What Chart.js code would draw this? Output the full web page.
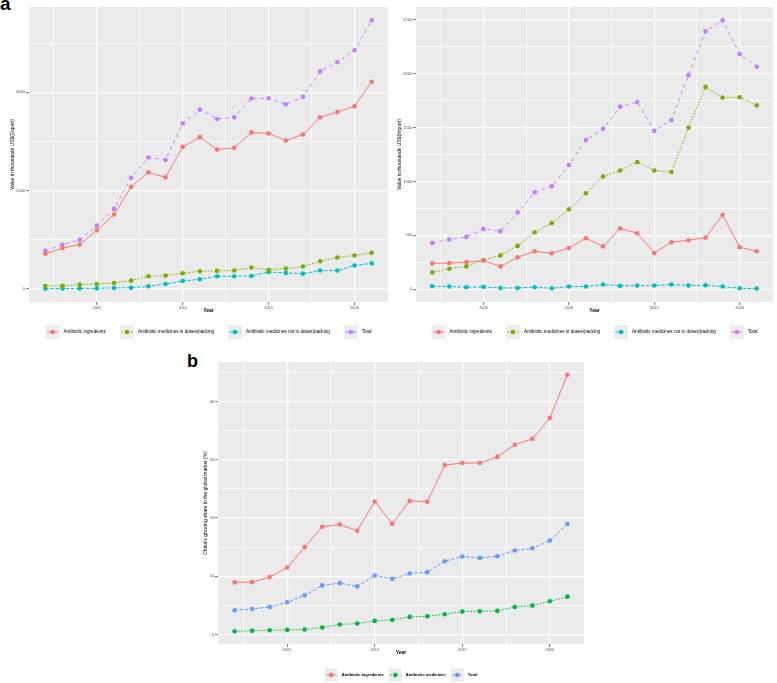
<!DOCTYPE html>
<html>
  <head>
    <meta charset='utf-8'>
    <title>China antibiotic trade</title>
    <style>
      body {
        margin: 0;
        background: #fff;
        font-family: 'Liberation Sans', Arial, sans-serif;
      }
      #page {
        position: relative;
        width: 777px;
        height: 683px;
        overflow: hidden;
      }
      canvas, .tag {
        position: absolute;
      }
      .tag {
        font-weight: bold;
        line-height: 1;
      }
    </style>
    <script src='https://cdn.jsdelivr.net/npm/chart.js@4.4.1/dist/chart.umd.min.js'></script>
  </head>
  <body>
    <div id='page'>
      <div class='tag' style='left:0px;top:-6px;font-size:19px'>a</div>
      <div class='tag' style='left:187px;top:352px;font-size:18px'>b</div>
      <canvas id='exportChart' width='392' height='345' style='left:0px;top:0px'></canvas>
      <canvas id='importChart' width='389' height='345' style='left:388px;top:0px'></canvas>
      <canvas id='shareChart' width='420' height='338' style='left:180px;top:345px'></canvas>
    </div>

    <script>
    var years = [2002, 2003, 2004, 2005, 2006, 2007, 2008, 2009, 2010, 2011,
                 2012, 2013, 2014, 2015, 2016, 2017, 2018, 2019, 2020, 2021];
    var yearTicks = [2002.5, 2005, 2007.5, 2010, 2012.5, 2015, 2017.5, 2020];

    // a, left: exports, thousands US$
    var exportIngredients = [710, 826, 901, 1188, 1509, 2075, 2369, 2266, 2887, 3085,
                             2833, 2867, 3181, 3160, 3017, 3140, 3488, 3597, 3713, 4212];
    var exportDoses = [55, 61, 82, 96, 116, 164, 253, 266, 314, 355,
                       362, 369, 430, 382, 410, 451, 560, 635, 676, 730];
    var exportNotDoses = [2, 3, 5, 7, 14, 20, 48, 96, 157, 191,
                          253, 253, 259, 341, 321, 307, 369, 369, 471, 519];
    var exportTotal = [771, 894, 997, 1283, 1625, 2259, 2669, 2621, 3365, 3645,
                       3454, 3488, 3870, 3877, 3754, 3904, 4423, 4608, 4853, 5461];
    var exportTicks = [0, 1000, 2000, 3000, 4000, 5000];

    // a, right: imports, thousands US$
    var importIngredients = [240, 243, 252, 265, 212, 296, 352, 333, 383, 473,
                             398, 564, 520, 336, 436, 455, 479, 691, 389, 352];
    var importDoses = [156, 190, 212, 271, 314, 402, 529, 613, 741, 890,
                       1046, 1102, 1180, 1102, 1087, 1498, 1877, 1778, 1781, 1706];
    var importNotDoses = [28, 25, 19, 22, 12, 12, 19, 9, 25, 25,
                          44, 31, 34, 34, 44, 34, 37, 25, 9, 6];
    var importTotal = [430, 461, 486, 560, 539, 713, 900, 956, 1152, 1385,
                       1488, 1694, 1737, 1469, 1569, 1986, 2394, 2494, 2182, 2064];
    var importTicks = [0, 250, 500, 750, 1000, 1250, 1500, 1750, 2000, 2250, 2500];

    // b: share of the global market, %
    var shareIngredients = [8.95, 9.0, 9.86, 11.5, 15.0, 18.5, 18.9, 17.8, 22.85, 19.0,
                            22.96, 22.8, 29.1, 29.45, 29.45, 30.5, 32.6, 33.6, 37.2, 44.6];
    var shareMedicines = [0.57, 0.63, 0.74, 0.8, 0.85, 1.2, 1.71, 1.88, 2.34, 2.5,
                          3.02, 3.13, 3.48, 3.93, 3.99, 4.05, 4.73, 4.96, 5.7, 6.5];
    var shareTotal = [4.16, 4.39, 4.73, 5.53, 6.72, 8.43, 8.83, 8.26, 10.14, 9.57,
                      10.48, 10.71, 12.59, 13.39, 13.16, 13.45, 14.42, 14.81, 16.13, 18.97];
    var shareTicks = [0, 5, 10, 15, 20, 25, 30, 35, 40, 45];

    var FONT = "'Liberation Sans', Arial, sans-serif";

    // grey panel behind the grid, like theme_grey
    var panelBg = {
      id: 'panelBg',
      beforeDraw: function (chart) {
        var a = chart.chartArea;
        var ctx = chart.ctx;
        ctx.save();
        ctx.fillStyle = '#EBEBEB';
        ctx.fillRect(a.left, a.top, a.right - a.left, a.bottom - a.top);
        ctx.restore();
      }
    };

    // ggplot style legend: grey key with line and point, then label
    var ggLegend = {
      id: 'ggLegend',
      afterDraw: function (chart, args, opts) {
        var ctx = chart.ctx;
        var sets = chart.data.datasets;
        ctx.save();
        ctx.font = opts.font;
        var widths = sets.map(function (d) { return ctx.measureText(d.label).width; });
        var total = 0;
        widths.forEach(function (w, i) {
          total += opts.key + opts.textGap + w;
          if (i < widths.length - 1) total += opts.gap;
        });
        var area = chart.chartArea;
        var x = (area.left + area.right) / 2 - total / 2;
        var y = opts.y;
        var k = opts.key;
        sets.forEach(function (d, i) {
          ctx.fillStyle = '#EDEDED';
          ctx.fillRect(x, y - k / 2, k, k);
          ctx.strokeStyle = d.borderColor;
          ctx.lineWidth = d.borderWidth;
          ctx.setLineDash(d.borderDash || []);
          ctx.beginPath();
          ctx.moveTo(x + 1.5, y);
          ctx.lineTo(x + k - 1.5, y);
          ctx.stroke();
          ctx.setLineDash([]);
          ctx.fillStyle = d.borderColor;
          ctx.beginPath();
          ctx.arc(x + k / 2, y, d.pointRadius, 0, 2 * Math.PI);
          ctx.fill();
          ctx.fillStyle = '#000';
          ctx.textAlign = 'left';
          ctx.textBaseline = 'middle';
          ctx.fillText(d.label, x + k + opts.textGap, y);
          x += k + opts.textGap + widths[i] + opts.gap;
        });
        ctx.restore();
      }
    };

    function series(label, values, color, dash) {
      return {
        label: label,
        data: years.map(function (yr, i) { return { x: yr, y: values[i] }; }),
        borderColor: color,
        backgroundColor: color,
        borderWidth: 1,
        borderDash: dash,
        pointRadius: 2.3,
        pointBorderWidth: 0,
        pointBackgroundColor: color,
        fill: false,
        tension: 0
      };
    }

    function rangeOf(list) {
      var lo = Infinity, hi = -Infinity;
      list.forEach(function (arr) {
        arr.forEach(function (v) { lo = Math.min(lo, v); hi = Math.max(hi, v); });
      });
      var pad = (hi - lo) * 0.05;
      return { min: lo - pad, max: hi + pad };
    }

    function makePanel(id, p) {
      var yr = rangeOf(p.values);
      var xr = rangeOf([years]);
      var isMajorY = function (v) { return Math.abs(v % p.yMajor) < 1e-9; };
      var isMajorX = function (v) { return v % 5 === 0; };
      return new Chart(document.getElementById(id).getContext('2d'), {
        type: 'line',
        data: { datasets: p.datasets },
        plugins: [panelBg, ggLegend],
        options: {
          responsive: false,
          animation: false,
          events: [],
          layout: { padding: p.padding },
          plugins: {
            legend: { display: false },
            tooltip: { enabled: false },
            ggLegend: p.legend
          },
          scales: {
            x: {
              type: 'linear',
              min: xr.min,
              max: xr.max,
              afterBuildTicks: function (s) {
                s.ticks = yearTicks.map(function (v) { return { value: v }; });
              },
              afterFit: function (s) { s.height = 14; },
              border: { display: false },
              grid: {
                color: '#FFFFFF',
                lineWidth: function (c) { return isMajorX(c.tick.value) ? 1.2 : 0.7; },
                tickColor: function (c) { return isMajorX(c.tick.value) ? '#333333' : 'rgba(0,0,0,0)'; },
                tickWidth: 0.7,
                tickLength: 3
              },
              ticks: {
                autoSkip: false,
                maxRotation: 0,
                padding: 1,
                color: '#4D4D4D',
                font: { family: FONT, size: 3.9 },
                callback: function (v) { return isMajorX(v) ? String(v) : ''; }
              },
              title: {
                display: true,
                text: 'Year',
                color: '#000',
                font: { family: FONT, size: 5, weight: 'bold', lineHeight: 1 },
                padding: { top: 0, bottom: 2.5 }
              }
            },
            y: {
              type: 'linear',
              min: yr.min,
              max: yr.max,
              afterBuildTicks: function (s) {
                s.ticks = p.yTicks.map(function (v) { return { value: v }; });
              },
              afterFit: function (s) { s.width = p.yWidth; },
              border: { display: false },
              grid: {
                color: '#FFFFFF',
                lineWidth: function (c) { return isMajorY(c.tick.value) ? 1.2 : 0.7; },
                tickColor: function (c) { return isMajorY(c.tick.value) ? '#333333' : 'rgba(0,0,0,0)'; },
                tickWidth: 0.7,
                tickLength: 3
              },
              ticks: {
                autoSkip: false,
                padding: 1,
                color: '#4D4D4D',
                font: { family: FONT, size: 3.9 },
                callback: function (v) { return isMajorY(v) ? String(v) : ''; }
              },
              title: {
                display: true,
                text: p.yTitle,
                color: '#000',
                font: { family: FONT, size: 5, lineHeight: 1 },
                padding: { top: p.yTitlePad, bottom: 0 }
              }
            }
          }
        }
      });
    }

    var red = '#F8766D', olive = '#7CAE00', cyan = '#00BFC4', purple = '#C77CFF';
    var green = '#00BA38', blue = '#619CFF';

    makePanel('exportChart', {
      values: [exportIngredients, exportDoses, exportNotDoses, exportTotal],
      datasets: [
        series('Antibiotic ingredients', exportIngredients, red, []),
        series('Antibiotic medicines in doses/packing', exportDoses, olive, [1.6, 1.6]),
        series('Antibiotic medicines not in doses/packing', exportNotDoses, cyan, [3.4, 1.7]),
        series('Total', exportTotal, purple, [3.6, 3.6])
      ],
      yTicks: exportTicks,
      yMajor: 2000,
      yWidth: 29,
      yTitle: 'Value in thousands US$(Export)',
      yTitlePad: 10.5,
      padding: { left: 0, right: 2, top: 7, bottom: 29 },
      legend: { y: 332, key: 14, textGap: 4, gap: 14, font: '4.6px ' + FONT }
    });

    makePanel('importChart', {
      values: [importIngredients, importDoses, importNotDoses, importTotal],
      datasets: [
        series('Antibiotic ingredients', importIngredients, red, []),
        series('Antibiotic medicines in doses/packing', importDoses, olive, [1.6, 1.6]),
        series('Antibiotic medicines not in doses/packing', importNotDoses, cyan, [3.4, 1.7]),
        series('Total', importTotal, purple, [3.6, 3.6])
      ],
      yTicks: importTicks,
      yMajor: 500,
      yWidth: 28,
      yTitle: 'Value in thousands US$(Import)',
      yTitlePad: 9.5,
      padding: { left: 0, right: 4, top: 7, bottom: 29 },
      legend: { y: 332, key: 14, textGap: 4, gap: 14, font: '4.6px ' + FONT }
    });

    makePanel('shareChart', {
      values: [shareIngredients, shareMedicines, shareTotal],
      datasets: [
        series('Antibiotic ingredients', shareIngredients, red, []),
        series('Antibiotic medicines', shareMedicines, green, [1.6, 1.6]),
        series('Total', shareTotal, blue, [3.4, 1.7])
      ],
      yTicks: shareTicks,
      yMajor: 10,
      yWidth: 38,
      yTitle: "China's growing share in the global market (%)",
      yTitlePad: 23.5,
      padding: { left: 0, right: 16, top: 17, bottom: 25 },
      legend: { y: 330, key: 13, textGap: 4, gap: 5, font: 'bold 4.1px ' + FONT }
    });
    </script>
  </body>
</html>
